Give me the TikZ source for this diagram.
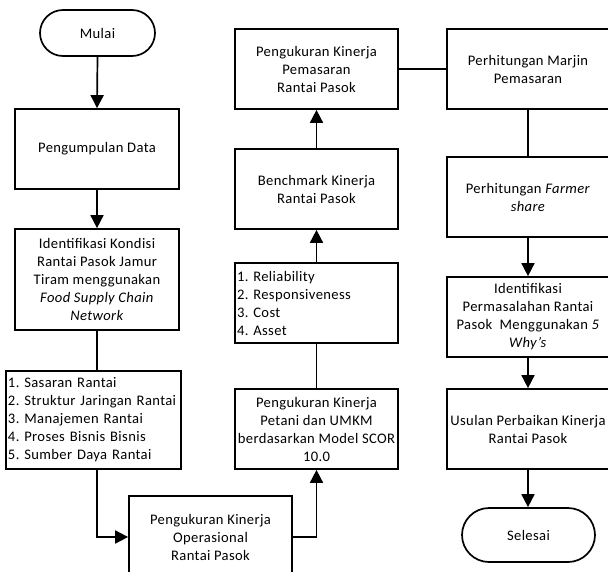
\documentclass[tikz,border=0pt]{standalone}
\usepackage{fontspec}
\setmainfont{Carlito}[LetterSpace=2.5]
\frenchspacing
\usetikzlibrary{arrows.meta,positioning,calc}
\begin{document}
\begin{tikzpicture}[x=1pt,y=-1pt,
  every node/.style={font=\fontsize{14.6pt}{18pt}\selectfont},
  box/.style={draw,line width=1.7pt,rectangle,align=center,inner sep=0pt,minimum width=163pt,minimum height=80pt},
  listbox/.style={draw,line width=1.7pt,rectangle,align=left,inner xsep=2pt,inner ysep=0pt,minimum height=80pt},
  term/.style={draw,line width=1.7pt,rectangle,rounded corners=23pt,align=center,inner sep=0pt},
  conn/.style={line width=1.7pt},
  arr/.style={line width=1.7pt,-{Triangle[length=13pt,width=13pt]}}]
\clip (0,0) rectangle (608,571);
\fill[white] (0,0) rectangle (608,571);
% left column
\node[term,minimum width=115pt,minimum height=46pt] (mulai) at (97.5,33) {Mulai};
\node[box,minimum width=164pt] (data) at (97,149) {Pengumpulan Data};
\node[box,minimum width=164pt,minimum height=101pt] (ident) at (97,279.5)
  {Identifikasi Kondisi\\Rantai Pasok Jamur\\Tiram menggunakan\\\textit{Food Supply Chain}\\\textit{Network}};
\node[listbox,text width=171pt,minimum height=98pt] (list1) at (93.5,420)
  {1. Sasaran Rantai\\2. Struktur Jaringan Rantai\\3. Manajemen Rantai\\4. Proses Bisnis Bisnis\\5. Sumber Daya Rantai};
\node[box,minimum height=82pt] (oper) at (210.5,537) {Pengukuran Kinerja\\Operasional\\Rantai Pasok};
% middle column
\node[box] (scor) at (316.5,429) {Pengukuran Kinerja\\Petani dan UMKM\\berdasarkan Model SCOR\\10.0};
\node[listbox,text width=159pt] (rel) at (316.5,303)
  {1. Reliability\\2. Responsiveness\\3. Cost\\4. Asset};
\node[box] (bench) at (316.5,189) {Benchmark Kinerja\\Rantai Pasok};
\node[box] (pemas) at (316.5,69) {Pengukuran Kinerja\\Pemasaran\\Rantai Pasok};
% right column
\node[box,minimum width=162pt] (marjin) at (528,69) {Perhitungan Marjin\\Pemasaran};
\node[box,minimum width=162pt] (farmer) at (528,197) {Perhitungan \textit{Farmer}\\\textit{share}};
\node[box,minimum width=162pt] (masalah) at (528,317)
  {Identifikasi\\Permasalahan Rantai\\Pasok\ \ Menggunakan \textit{5}\\\textit{Why’s}};
\node[box,minimum width=162pt] (usulan) at (528,429) {Usulan Perbaikan Kinerja\\Rantai Pasok};
\node[term,rounded corners=27pt,minimum width=133pt,minimum height=54pt] (selesai) at (528.5,535) {Selesai};
% connectors
\draw[arr] (mulai.south) -- (data.north);
\draw[arr] (data.south) -- (ident.north);
\draw[conn] (ident.south) -- (ident.south |- list1.north);
\draw[arr] (list1.south -| ident.south) |- (oper.west);
\draw[arr] (oper.east) -| (scor.south);
\draw[conn] (scor.north) -- (rel.south);
\draw[arr] (rel.north) -- (bench.south);
\draw[arr] (bench.north) -- (pemas.south);
\draw[conn] (pemas.east) -- (marjin.west);
\draw[conn] (marjin.south) -- (farmer.north);
\draw[arr] (farmer.south) -- (masalah.north);
\draw[arr] (masalah.south) -- (masalah.south |- usulan.north);
\draw[arr] (usulan.south) -- (usulan.south |- selesai.north);
\end{tikzpicture}
\end{document}
